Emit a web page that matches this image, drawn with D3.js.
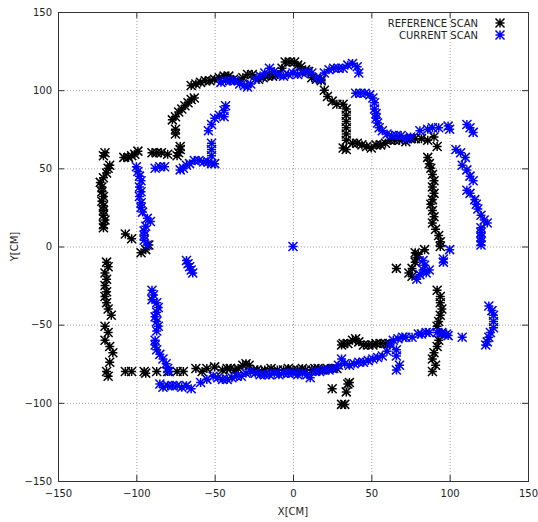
<!DOCTYPE html>
<html>
<head>
<meta charset="utf-8">
<script src="https://cdn.jsdelivr.net/npm/d3@7"></script>
<style>
    body { margin: 0; background: #fff; }
    text { font-family: "DejaVu Sans", sans-serif; font-size: 10px; fill: #222; }
</style>
</head>
<body>
<div id="chart"></div>
<script>
// Data
let xTicks = [-150, -100, -50, 0, 50, 100, 150];
let yTicks = [-150, -100, -50, 0, 50, 100, 150];
let seriesNames = ["REFERENCE SCAN", "CURRENT SCAN"];

let referenceScan = [
    // left wall top
    [-120,60],[-121,58],[-117,52],[-118,50],[-119,47],[-121,44],[-123,41],[-122,38],[-122,35],[-121,32],
    [-122,29],[-121,26],[-121,23],[-121,20],[-120,17],[-121,14],[-121,12],
    // row near y=58
    [-108,57],[-105,57],[-103,58],[-101,59],[-99,61],[-90,60],[-87,60],[-84,60],[-80,59],
    // diagonal
    [-74,58],[-73,60],[-72,62],[-72,64],[-75,72],[-75,75],[-77,81],[-75,83],[-73,86],[-71,88],
    [-69,90],[-67,92],[-65,94],[-63,95],
    [-107,8],[-103,5],[-97,-4],[-94,-2],[-92,1],
    // left wall bottom
    [-119,-10],[-118,-13],[-120,-17],[-119,-21],[-120,-25],[-119,-29],[-120,-32],[-119,-36],[-118,-40],
    [-116,-44],[-120,-51],[-118,-55],[-120,-60],[-117,-64],[-115,-68],[-117,-74],[-119,-80],[-118,-83],
    // bottom wall
    [-107,-80],[-103,-80],[-95,-80],[-94,-81],[-87,-80],[-80,-80],[-74,-80],[-70,-80],[-62,-78],[-58,-80],
    [-55,-78],[-50,-77],[-45,-79],[-42,-78],[-40,-78],[-37,-79],[-35,-78],[-32,-76],[-30,-75],[-28,-76],
    [-25,-79],[-23,-79],[-20,-80],[-18,-79],[-14,-78],[-10,-79],[-6,-79],[-3,-78],[0,-79],[3,-79],
    [6,-78],[8,-79],[12,-79],[14,-78],[16,-78],[19,-79],[22,-78],[25,-78],[28,-78],
    [25,-91],[31,-101],[33,-101],[34,-93],[35,-88],[36,-87],
    // lower right row
    [31,-63],[32,-62],[35,-62],[38,-60],[40,-59],[42,-61],[45,-63],[48,-63],[51,-63],[53,-62],
    [56,-62],[59,-62],[62,-62],
    // right wall lower
    [92,-28],[94,-32],[94,-36],[95,-40],[94,-44],[93,-48],[92,-51],[95,-56],[93,-60],[92,-64],
    [90,-68],[89,-72],[91,-76],[89,-80],
    [66,-14],[74,-17],[76,-19],[76,-14],[78,-10],[79,-7],[78,-4],[84,-2],[80,-5],
    // right wall upper
    [86,57],[87,53],[88,50],[89,46],[90,42],[89,38],[90,34],[89,30],[88,27],[89,23],
    [90,19],[89,15],[91,11],[93,7],[94,3],[94,0],
    // upper right
    [20,100],[22,96],[25,93],[28,91],[32,91],[34,88],[34,84],[34,80],[34,76],[34,72],
    [34,68],[32,63],[34,62],[38,66],[41,66],[44,65],[47,64],[50,63],[53,65],[56,65],
    [59,66],[62,68],[65,68],[68,68],[72,67],[75,69],[78,69],[82,69],[86,68],[90,70],[92,64],
    // top arc
    [-65,103],[-62,104],[-59,105],[-56,106],[-53,106],[-50,107],[-47,108],[-44,109],[-41,109],[-38,107],
    [-35,106],[-32,108],[-29,110],[-26,110],[-22,107],[-19,108],[-16,109],[-13,109],[-10,110],[-7,114],
    [-5,118],[-2,118],[1,118],[3,116],[5,115],[8,113],[10,112],[12,108],[15,107],[18,106]
];

let currentScan = [
    // left wall
    [-100,51],[-99,48],[-98,45],[-97,42],[-98,38],[-97,35],[-98,32],[-97,28],[-97,25],[-96,22],
    [-93,18],[-91,16],[-94,13],[-95,10],[-95,7],[-95,4],[-93,1],
    // row near y=50
    [-88,50],[-85,51],[-82,51],[-72,49],[-70,50],[-68,52],[-66,53],[-63,55],[-60,55],[-57,54],
    [-54,54],[-52,53],[-50,53],[-52,58],[-52,62],[-52,66],
    [-54,74],[-52,78],[-50,82],[-47,84],[-44,83],[-44,87],[-43,90],
    // top
    [-46,105],[-43,106],[-40,106],[-37,106],[-34,104],[-31,103],[-29,102],[-27,104],[-24,107],[-21,109],
    [-18,111],[-15,114],[-12,112],[-9,110],[-6,109],[-3,110],[0,111],[3,110],[6,111],[9,112],
    [12,111],[15,108],[18,107],[20,111],[23,113],[26,114],[29,114],[32,114],[35,116],[38,117],[41,115],[42,111],
    // upper right
    [40,98],[43,98],[46,98],[49,97],[51,95],[52,92],[52,88],[53,85],[53,82],[54,79],
    [55,76],[57,74],[60,72],[63,71],[66,71],[69,71],[72,69],[75,70],[81,74],[86,75],
    [89,76],[93,76],[99,77],[100,75],[111,78],[113,76],[115,73],
    // right side
    [104,62],[107,60],[110,57],[108,52],[111,49],[113,45],[115,42],[111,36],[113,34],[116,30],
    [117,27],[118,24],[120,20],[122,17],[124,15],[120,12],[120,9],[120,6],[120,3],[120,1],
    [100,-2],[96,-8],[96,-10],
    [79,-21],[81,-18],[83,-15],[84,-12],[83,-9],[87,-15],[85,-17],
    [125,-38],[127,-41],[128,-44],[128,-48],[128,-52],[126,-55],[125,-58],[124,-61],[123,-63],
    // lower right row
    [64,-60],[67,-59],[70,-58],[72,-58],[76,-58],[80,-56],[82,-56],[85,-55],[87,-55],[92,-55],
    [95,-55],[98,-56],[99,-57],[108,-58],[66,-66],[66,-70],[68,-76],[66,-79],
    // bottom
    [-85,-88],[-83,-90],[-80,-89],[-77,-89],[-74,-89],[-71,-90],[-68,-89],[-65,-91],[-59,-87],[-55,-85],
    [-51,-83],[-48,-84],[-45,-85],[-42,-85],[-39,-84],[-36,-83],[-33,-83],[-30,-81],[-27,-80],[-24,-81],
    [-21,-82],[-18,-82],[-15,-82],[-12,-81],[-9,-82],[-6,-81],[-3,-81],[0,-81],[3,-82],[6,-81],
    [9,-82],[11,-84],[14,-80],[17,-80],[20,-79],[23,-79],[26,-78],[29,-76],[31,-72],[33,-75],
    [36,-76],[39,-75],[42,-74],[45,-74],[48,-73],[51,-72],[54,-71],[57,-70],[60,-67],[62,-63],
    // left lower
    [-90,-28],[-89,-31],[-90,-34],[-87,-36],[-86,-39],[-87,-42],[-88,-45],[-87,-48],[-86,-51],[-87,-54],
    [-88,-60],[-88,-63],[-87,-66],[-85,-69],[-83,-72],[-81,-75],[-80,-78],[-79,-80],
    [-68,-9],[-67,-11],[-66,-13],[-65,-15],[-64,-17],
    [0,0]
];

let colors = ["#000000", "#0000ff"];

// Layout
let margin = {top: 12, right: 10, bottom: 41, left: 58};
let width = 538 - margin.left - margin.right;
let height = 522 - margin.top - margin.bottom;

let svg = d3.select("#chart").append("svg")
    .attr("width", 538)
    .attr("height", 522);

let g = svg.append("g")
    .attr("transform", `translate(${margin.left}, ${margin.top})`);

let x = d3.scaleLinear().domain([-150, 150]).range([0, width]);
let y = d3.scaleLinear().domain([-150, 150]).range([height, 0]);

// grid
g.selectAll(".gridx")
    .data(xTicks.slice(1, -1))
    .enter().append("line")
    .attr("x1", d => x(d) + 0.5).attr("x2", d => x(d) + 0.5)
    .attr("y1", 0).attr("y2", height)
    .attr("stroke", "#a0a0a0").attr("stroke-dasharray", "1,2");

g.selectAll(".gridy")
    .data(yTicks.slice(1, -1))
    .enter().append("line")
    .attr("y1", d => y(d) + 0.5).attr("y2", d => y(d) + 0.5)
    .attr("x1", 0).attr("x2", width)
    .attr("stroke", "#a0a0a0").attr("stroke-dasharray", "1,2");

// axes: ticks inside, mirrored
let tickLen = 6;
g.append("g").attr("transform", `translate(0, ${height})`)
    .call(d3.axisBottom(x).tickValues(xTicks).tickSizeInner(-tickLen).tickSizeOuter(0).tickPadding(9))
    .call(a => a.select(".domain").remove());
g.append("g")
    .call(d3.axisTop(x).tickValues(xTicks).tickSizeInner(-tickLen).tickSizeOuter(0).tickFormat(""))
    .call(a => a.select(".domain").remove());
g.append("g")
    .call(d3.axisLeft(y).tickValues(yTicks).tickSizeInner(-tickLen).tickSizeOuter(0).tickPadding(6))
    .call(a => a.select(".domain").remove());
g.append("g").attr("transform", `translate(${width}, 0)`)
    .call(d3.axisRight(y).tickValues(yTicks).tickSizeInner(-tickLen).tickSizeOuter(0).tickFormat(""))
    .call(a => a.select(".domain").remove());

g.selectAll(".tick line").attr("stroke", "#333");
g.selectAll(".tick text").style("font-family", "DejaVu Sans, sans-serif").style("font-size", "10px").attr("fill", "#222");

g.append("rect")
    .attr("x", 0.5).attr("y", 0.5)
    .attr("width", width).attr("height", height)
    .attr("fill", "none").attr("stroke", "#333");

// axis labels
svg.append("text")
    .attr("x", margin.left + width / 2).attr("y", 515)
    .attr("text-anchor", "middle")
    .text("X[CM]");

svg.append("text")
    .attr("transform", `translate(18, ${margin.top + height / 2}) rotate(-90)`)
    .attr("text-anchor", "middle")
    .text("Y[CM]");

// star marker (gnuplot point type 3)
let s = 4.5;
let star = `M${-s},0H${s}M0,${-s}V${s}M${-s},${-s}L${s},${s}M${-s},${s}L${s},${-s}`;

[referenceScan, currentScan].forEach(function(series, i) {
    g.append("g").selectAll("path")
        .data(series)
        .enter().append("path")
        .attr("d", star)
        .attr("transform", d => `translate(${x(d[0])}, ${y(d[1])})`)
        .attr("fill", "none")
        .attr("stroke", colors[i])
        .attr("stroke-width", 1.5);
});

// legend
let legend = svg.append("g");
seriesNames.forEach(function(name, i) {
    let ly = 23 + i * 12;
    legend.append("text")
        .attr("x", 478).attr("y", ly)
        .attr("dy", "0.35em")
        .attr("text-anchor", "end")
        .text(name);
    legend.append("path")
        .attr("d", star)
        .attr("transform", `translate(500, ${ly})`)
        .attr("fill", "none")
        .attr("stroke", colors[i])
        .attr("stroke-width", 1.5);
});
</script>
</body>
</html>
